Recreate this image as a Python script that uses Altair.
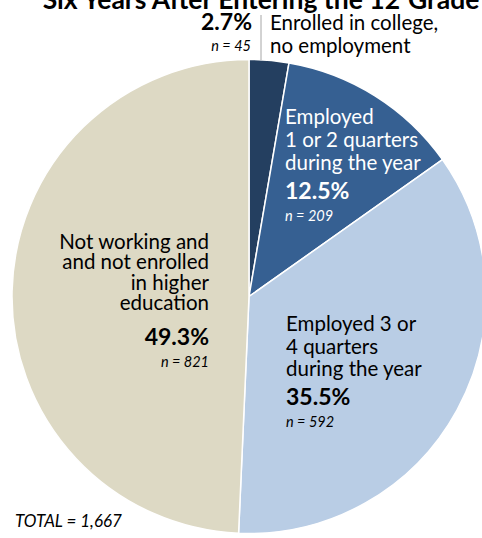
import altair as alt
import pandas as pd

# ---- data ----
categories = [
    "Enrolled in college, no employment",
    "Employed 1 or 2 quarters during the year",
    "Employed 3 or 4 quarters during the year",
    "Not working and not enrolled in higher education",
]
percents = [2.7, 12.5, 35.5, 49.3]
counts = [45, 209, 592, 821]
desc_lines = [
    "Enrolled in college,\nno employment",
    "Employed\n1 or 2 quarters\nduring the year",
    "Employed 3 or\n4 quarters\nduring the year",
    "Not working and\nand not enrolled\nin higher\neducation",
]
colors = ["#243F60", "#366092", "#B9CDE5", "#DDD9C4"]
title_main = "Six Years After Entering the 12"
title_tail = "Grade"
total_label = "TOTAL = 1,667"

df = pd.DataFrame({
    "cat": categories,
    "pct": percents,
    "n": counts,
    "desc": desc_lines,
    "idx": list(range(len(categories))),
})
df["pct_label"] = df["pct"].map(lambda v: f"{v:.1f}%")
df["n_label"] = df["n"].map(lambda v: f"n = {v}")

FONT = "Lato"
W, H = 482, 538
CX, CY, R = 249, 296.5, 237

pie = alt.Chart(df).mark_arc(radius=R, stroke="white", strokeWidth=1.5).encode(
    theta=alt.Theta("pct:Q", stack=True),
    color=alt.Color("cat:N", scale=alt.Scale(domain=categories, range=colors), legend=None),
    order=alt.Order("idx:Q"),
    x=alt.value(CX),
    y=alt.value(CY),
)

# label layout (positions are layout, not data); desc y = first line
layout = {
    0: dict(desc=(270, 24, "left", 23), pct=(252, 23, "right"), n=(251, 47, "right"), color="#000000"),
    1: dict(desc=(285, 118, "left", 23), pct=(285, 192, "left"), n=(285, 217, "left"), color="#FFFFFF"),
    2: dict(desc=(286, 325, "left", 22.5), pct=(286, 398, "left"), n=(286, 423, "left"), color="#000000"),
    3: dict(desc=(209, 243, "right", 20.3), pct=(209, 338, "right"), n=(209, 363, "right"), color="#000000"),
}

layers = [pie]
for i, L in layout.items():
    sub = alt.Chart(df).transform_filter(alt.datum.idx == i)
    dx, dy, dal, dlh = L["desc"]
    layers.append(sub.mark_text(align=dal, baseline="middle", font=FONT, fontSize=20.5,
                                lineBreak="\n", lineHeight=dlh, color=L["color"]).encode(
        x=alt.value(dx), y=alt.value(dy), text="desc:N"))
    px, py, pal = L["pct"]
    layers.append(sub.mark_text(align=pal, baseline="middle", font=FONT, fontSize=23,
                                fontWeight="bold", color=L["color"]).encode(
        x=alt.value(px), y=alt.value(py), text="pct_label:N"))
    nx, ny, nal = L["n"]
    layers.append(sub.mark_text(align=nal, baseline="middle", font=FONT, fontSize=14.5,
                                fontStyle="italic", color=L["color"]).encode(
        x=alt.value(nx), y=alt.value(ny), text="n_label:N"))

# separator rule next to the small-slice label
layers.append(alt.Chart(df).transform_filter(alt.datum.idx == 0).mark_rule(
    color="#A6A6A6", strokeWidth=1).encode(
    x=alt.value(261), y=alt.value(15), y2=alt.value(60)))

# title (cropped at top in the reference)
title_df = pd.DataFrame({"t1": [title_main], "t2": [title_tail], "tot": [total_label]})
tb = alt.Chart(title_df)
layers.append(tb.mark_text(align="right", baseline="alphabetic", font=FONT, fontSize=26.5,
                           fontWeight="bold", color="#000000").encode(
    x=alt.value(400), y=alt.value(8.5), text="t1:N"))
layers.append(tb.mark_text(align="left", baseline="alphabetic", font=FONT, fontSize=26.5,
                           fontWeight="bold", color="#000000").encode(
    x=alt.value(408), y=alt.value(8.5), text="t2:N"))
layers.append(tb.mark_text(align="left", baseline="middle", font=FONT, fontSize=17,
                           fontStyle="italic", color="#000000").encode(
    x=alt.value(15), y=alt.value(522), text="tot:N"))

chart = alt.layer(*layers).properties(
    width=W, height=H,
    autosize=alt.AutoSizeParams(type="none"),
    padding=0,
).configure_view(stroke=None)

chart.save("out.html", embed_options={"renderer": "svg", "actions": False})
